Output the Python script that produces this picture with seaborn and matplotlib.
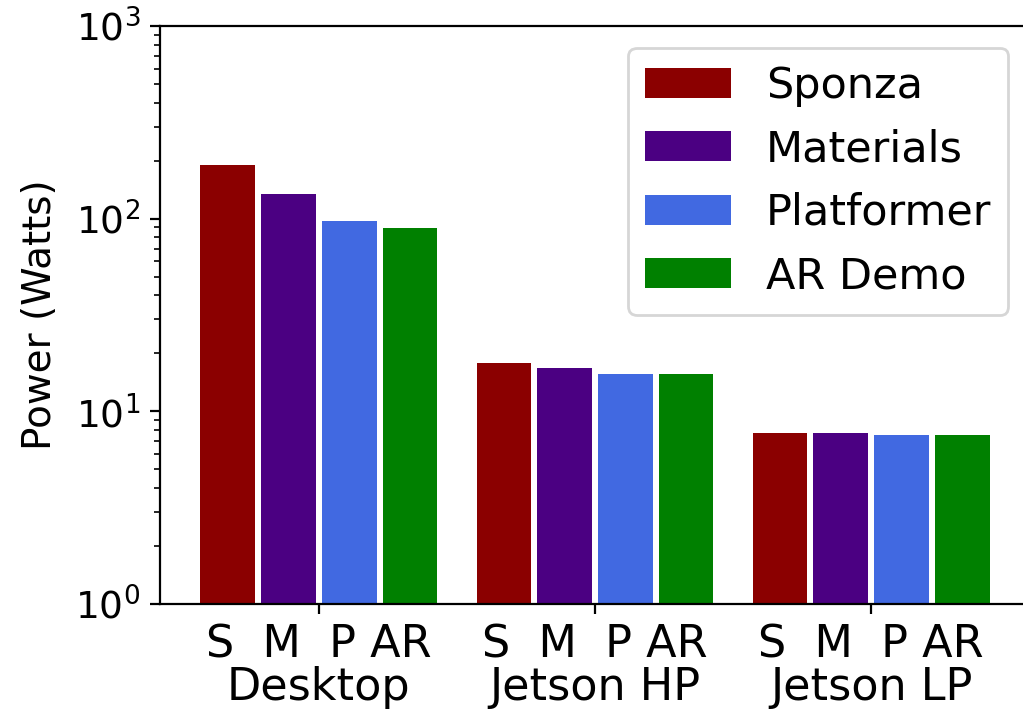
import matplotlib
matplotlib.use("Agg")
import matplotlib.pyplot as plt
import seaborn as sns
import pandas as pd

# Average power draw per platform and scene (Watts)
platforms = ["Desktop", "Jetson HP", "Jetson LP"]
scenes = ["Sponza", "Materials", "Platformer", "AR Demo"]
scene_abbrev = "S  M  P AR"
sponza = [190, 17.9, 7.7]
materials = [135, 16.8, 7.7]
platformer = [97, 15.7, 7.55]
ar_demo = [89, 15.7, 7.55]
colors = ["darkred", "indigo", "royalblue", "green"]

series = [sponza, materials, platformer, ar_demo]
rows = []
for scene, vals in zip(scenes, series):
    for plat, v in zip(platforms, vals):
        rows.append({"platform": plat, "scene": scene, "power": v})
df = pd.DataFrame(rows)

fig = plt.figure(figsize=(5.115, 3.575), dpi=200)
ax = fig.add_axes([160 / 1023, 111 / 715, 870 / 1023, 578 / 715])

sns.barplot(data=df, x="platform", y="power", hue="scene",
            order=platforms, hue_order=scenes, palette=colors,
            saturation=1, width=0.88, gap=0.1, dodge=True, linewidth=0,
            errorbar=None, ax=ax)

ax.set_yscale("log")
ax.set_ylim(1, 1000)
ax.set_xlim(-0.575, 2.575)
ax.set_xlabel("")
ax.set_ylabel("Power (Watts)", fontsize=14, labelpad=6)
ax.set_xticks(range(len(platforms)))
ax.set_xticklabels([f"{scene_abbrev}\n{p}" for p in platforms],
                   fontsize=16, linespacing=1.0)
ax.tick_params(axis="y", labelsize=13.5)
ax.spines["right"].set_visible(False)

handles, labels = ax.get_legend_handles_labels()
ax.legend(handles, labels, loc="upper right", fontsize=15.5)

fig.savefig("out.png", dpi=200)
